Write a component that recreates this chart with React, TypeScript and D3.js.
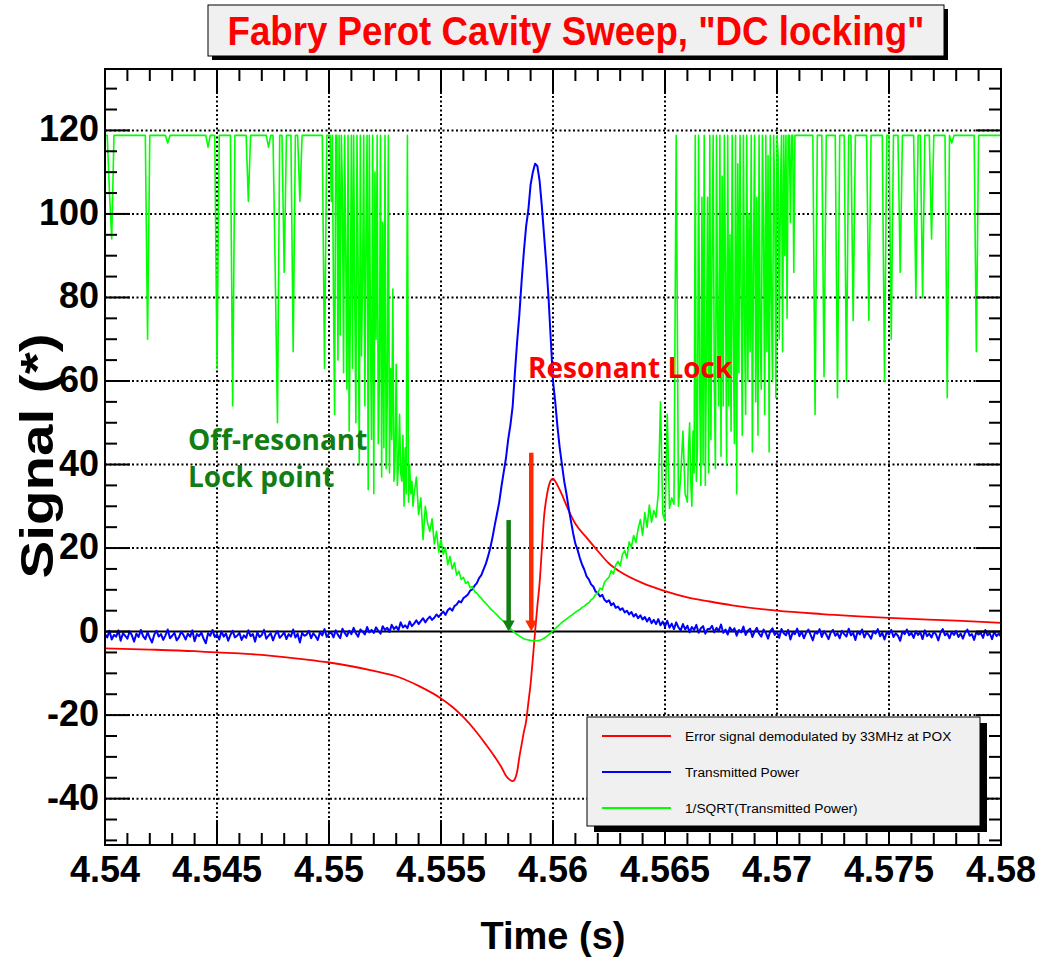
import React from 'react';
import * as d3 from 'd3';

// ---------------- DATA ----------------
const T0 = 4.54;
const DT = 0.0001; // sampling step of the blue trace
const SAT = 118.8; // saturation level of the 1/SQRT trace

const xTickValues = [4.54, 4.545, 4.55, 4.555, 4.56, 4.565, 4.57, 4.575, 4.58];
const xTickLabels = ['4.54', '4.545', '4.55', '4.555', '4.56', '4.565', '4.57', '4.575', '4.58'];
const yTickValues = [-40, -20, 0, 20, 40, 60, 80, 100, 120];
const yTickLabels = ['-40', '-20', '0', '20', '40', '60', '80', '100', '120'];

const seriesNames = [
  'Error signal demodulated by 33MHz at POX',
  'Transmitted Power',
  '1/SQRT(Transmitted Power)',
];
const seriesColors = ['#ff0000', '#0000ff', '#00ff00'];

const redTimes = [
  4.5400, 4.5420, 4.5440, 4.5450, 4.5460, 4.5470, 4.5480, 4.5490, 4.5500, 4.5510,
  4.5520, 4.5530, 4.5540, 4.5550, 4.5555, 4.5560, 4.5565, 4.5570, 4.5574, 4.5577,
  4.5579, 4.5581, 4.5582, 4.5583, 4.5584, 4.5585, 4.5586, 4.5587, 4.5588, 4.5589,
  4.5590, 4.5591, 4.5592, 4.5593, 4.5594, 4.5595, 4.5596, 4.5597, 4.5598, 4.5599,
  4.5600, 4.5601, 4.5602, 4.5604, 4.5606, 4.5610, 4.5615, 4.5620, 4.5625, 4.5630,
  4.5640, 4.5650, 4.5660, 4.5670, 4.5680, 4.5700, 4.5720, 4.5750, 4.5780, 4.5800,
];
const redValues = [
  -4.0, -4.3, -4.7, -5.0, -5.2, -5.6, -6.1, -6.7, -7.4, -8.3,
  -9.4, -10.7, -13.0, -16.0, -18.0, -20.5, -23.5, -27.0, -30.0, -32.5,
  -34.5, -35.6, -35.8, -35.3, -33.5, -30.0, -27.0, -24.0, -21.5, -17.0,
  -12.5, -6.5, 0.0, 6.0, 11.5, 19.5, 27.5, 31.8, 34.6, 36.2,
  36.6, 36.0, 35.0, 32.8, 30.2, 25.8, 22.5, 19.3, 16.3, 14.3,
  11.6, 9.7, 8.2, 7.2, 6.3, 5.0, 4.2, 3.3, 2.6, 2.1,
];

const blueValues = [
  -0.6, -1.4, 0.2, -1.9, -0.8, -1.2, 0.3, -2.2, -0.4, -1.0, // 0
  -1.7, 0.1, -0.9, -2.4, -0.5, -1.3, 0.4, -1.1, -1.8, -0.2, // 10
  -1.5, -2.6, -0.7, 0.2, -1.2, -0.6, -2.0, -0.9, 0.5, -1.6, // 20
  -1.0, -0.3, -2.1, -1.4, 0.0, -0.8, -1.9, -0.5, -1.2, 0.3, // 30
  -2.3, -0.6, -1.1, -0.2, -1.7, -2.8, -0.4, -1.0, 0.4, -1.3, // 40
  -0.7, -1.9, 0.1, -1.2, -0.5, -2.2, -0.8, 0.2, -1.4, -1.0, // 50
  -0.3, -2.0, -0.9, -1.5, 0.3, -1.1, -0.6, -2.4, -0.2, -1.3, // 60
  -0.8, 0.4, -1.7, -1.0, -0.4, -2.1, -0.7, 0.1, -1.5, -0.9, // 70
  -0.2, -1.8, -0.6, -1.2, 0.5, -1.4, -0.5, -2.6, -0.3, -1.0, // 80
  -0.7, 0.2, -1.6, -0.4, -1.1, -2.0, -0.1, -0.9, 0.6, -1.3, // 90
  -0.5, -0.2, -1.4, 0.3, -0.8, -1.6, 0.7, -0.3, -1.1, 0.2, // 100
  -0.6, 0.9, -0.4, -1.2, 0.5, 0.0, -0.7, 1.1, -0.2, 0.4, // 110
  -0.3, 1.0, 0.2, -0.5, 1.3, 0.4, 0.9, -0.1, 1.6, 0.6, // 120
  1.2, 0.3, 2.2, 1.0, 1.5, 0.8, 2.4, 1.3, 1.9, 2.7, // 130
  1.8, 2.5, 3.2, 2.2, 3.0, 3.6, 2.8, 3.3, 4.1, 3.5, // 140
  4.2, 4.8, 4.0, 5.1, 5.6, 5.0, 6.1, 6.5, 7.3, 7.0, // 150
  8.0, 8.4, 8.9, 9.8, 10.1, 11.0, 11.6, 12.8, 13.5, 14.9, // 160
  16.2, 18.0, 20.0, 22.6, 25.5, 28.2, 31.0, 34.8, 38.2, 41.5, // 170
  46.0, 49.5, 54.0, 62.0, 69.5, 76.0, 84.0, 91.0, 97.0, 101.0, // 180
  107.0, 110.0, 112.0, 111.5, 108.0, 102.0, 95.0, 88.0, 80.0, 70.0, // 190
  60.0, 55.0, 49.0, 44.0, 40.0, 36.0, 33.0, 29.5, 26.5, 23.5, // 200
  21.0, 19.5, 17.6, 16.0, 14.8, 13.2, 12.5, 11.3, 10.8, 9.6, // 210
  9.2, 8.4, 8.8, 7.6, 7.1, 7.5, 6.3, 6.8, 5.7, 6.0, // 220
  5.2, 5.6, 4.6, 5.0, 4.1, 4.7, 3.6, 4.2, 3.2, 3.9, // 230
  2.9, 3.5, 2.4, 3.3, 2.0, 2.8, 1.8, 3.0, 1.5, 2.4, // 240
  1.2, 2.6, 0.9, 1.9, 0.6, 2.2, 1.0, 0.3, 1.8, 0.5, // 250
  1.4, -0.2, 1.1, 0.4, 1.6, -0.3, 0.8, 1.3, -0.5, 0.6, // 260
  0.6, 1.4, -0.2, 0.9, 0.1, 1.7, -0.3, 0.5, -0.7, 1.0, // 270
  0.1, 0.8, -1.0, 0.4, -0.2, 1.2, -0.8, 0.2, 0.7, -1.3, // 280
  0.0, 0.9, -0.5, -1.2, 0.5, -0.3, -1.7, 0.1, 0.8, -0.8, // 290
  -0.1, -1.5, 0.6, -0.4, -0.9, 0.4, -1.9, -0.2, -0.6, 0.7, // 300
  -1.1, 0.0, -1.6, -0.3, 0.5, -0.8, -2.1, -0.1, -0.5, 0.6, // 310
  -1.3, 0.1, -0.7, -1.8, -0.2, 0.4, -1.0, -0.4, -1.6, 0.2, // 320
  -0.6, -1.2, 0.7, -0.9, -0.3, -2.0, 0.0, -0.7, 0.5, -1.4, // 330
  -0.2, -0.8, -1.7, 0.1, -0.5, 0.6, -1.1, -0.3, -1.9, -0.1, // 340
  -0.7, 0.4, -1.3, -0.4, -1.0, -2.2, 0.0, -0.6, 0.5, -0.9, // 350
  -0.3, -1.5, 0.1, -0.8, -0.2, -1.8, 0.3, -1.1, -0.5, -1.4, // 360
  0.0, -0.7, -2.1, -0.3, 0.6, -0.9, -0.4, -1.6, -0.1, -0.8, // 370
  0.1, -1.3, -0.5, -1.7, -0.2, 0.5, -1.0, -0.6, -2.0, -0.1, // 380
  -0.7, -0.3, -1.5, 0.4, -0.9, -0.4, -1.8, 0.0, -1.1, -0.5, // 390
  -1.2, // 400
];

// green trace, stored in segments (start time, sampling step, values)
const greenA = [ // 4.5400 .. 4.5499, step 0.0001
  SAT, SAT, 105, 94, SAT, SAT, SAT, SAT, SAT, SAT,
  SAT, SAT, SAT, SAT, SAT, SAT, SAT, SAT, SAT, 70,
  SAT, SAT, SAT, SAT, SAT, SAT, SAT, SAT, 117, SAT,
  SAT, SAT, SAT, SAT, SAT, SAT, SAT, SAT, SAT, SAT,
  SAT, SAT, SAT, SAT, SAT, SAT, 116, SAT, SAT, SAT,
  63, SAT, SAT, SAT, SAT, SAT, SAT, 54, SAT, SAT,
  SAT, SAT, SAT, SAT, 103, SAT, SAT, SAT, SAT, SAT,
  SAT, SAT, SAT, 116, SAT, SAT, 86, 50, SAT, SAT,
  86, SAT, SAT, SAT, 67, SAT, SAT, 103, SAT, SAT,
  SAT, SAT, SAT, SAT, SAT, SAT, SAT, SAT, 63, SAT,
];
const greenB = [ // 4.55000 .. 4.55375, step 0.00005 (dense region)
  SAT, SAT, 103, SAT, 80, 52, SAT, SAT, 65, SAT,
  71, SAT, 105, 62, SAT, 90, 58, SAT, 48, 75,
  SAT, 63, SAT, 79, 50, SAT, 88, 40, SAT, 66,
  85, SAT, 54, 95, SAT, 34, SAT, 72, 46, SAT,
  33, 110, 70, SAT, 45, 60, SAT, 37, 98, 44,
  SAT, 39, 55, SAT, 38, 63, 46, 82, 36, 41,
  64, 35, 40, 52, 38, 36, 47, 30, 44, 33,
  SAT, 31, 40, 33, 36, 30,
];
const greenC = [ // 4.5538 .. 4.5659, step 0.0001
  33, 37,
  28, 32, 22, 30, 26, 24, 27, 21, 24, 19,
  22, 18.5, 20, 16, 18, 15, 16.5, 13.5, 14.5, 12.5,
  13, 11.5, 12, 10.5, 10.8, 9.6, 9.2, 8.5, 8.0, 7.3,
  6.8, 6.2, 5.5, 5.0, 4.5, 4.0, 3.4, 2.9, 2.4, 1.8,
  1.3, 0.7, 0.2, -0.3, -0.7, -1.1, -1.4, -1.7, -1.9, -2.0,
  -2.1, -2.2, -2.2, -2.2, -2.1, -1.9, -1.6, -1.2, -0.8, -0.3,
  0.2, 0.7, 1.2, 1.7, 2.2, 2.6, 3.0, 3.4, 3.8, 4.2,
  4.6, 5.0, 5.3, 5.8, 6.1, 6.6, 6.9, 7.6, 8.0, 8.9,
  9.3, 10.4, 10.0, 11.8, 12.5, 13.0, 14.6, 13.8, 15.9, 16.8,
  15.7, 18.5, 19.4, 17.6, 21.5, 20.2, 23.0, 21.3, 24.6, 26.8,
  23.1, 28.5, 25.0, 30.3, 26.2, 29.0, 27.4, 33.0, 55, 28.2,
  26.5, 52, 29.5, 32, 30.5, SAT, 30, 37, 48, 33,
];
const greenD = [ // 4.56600 .. 4.57095, step 0.00005 (dense region)
  31, 44, 50, 36, 30, 48, 38, SAT, 36, 44,
  SAT, 58, 35, 104, 40, SAT, 35, 66, 104, 38,
  SAT, 46, 90, SAT, 60, 39, SAT, 72, 54, SAT,
  42, 109, 54, SAT, 86, 40, SAT, 54, 95, 48,
  SAT, 70, 45, SAT, 33, 112, 62, SAT, 80, 47,
  SAT, 75, 52, SAT, 60, 100, 67, SAT, 43, 88,
  SAT, 55, 104, 47, SAT, 70, 58, SAT, 96, 52,
  SAT, 67, 114, 43, SAT, 80, 60, SAT, 103, 56,
  SAT, 114, 70, 104, SAT, 67, SAT, 90, SAT, 75,
  SAT, SAT, 98, SAT, SAT, 86, SAT, SAT, SAT, SAT,
];
const greenE = [ // 4.5710 .. 4.5800, step 0.0001
  SAT, SAT, SAT, SAT, SAT, SAT, SAT, 52, SAT, SAT,
  SAT, 61, SAT, SAT, SAT, SAT, SAT, 56, SAT, SAT,
  SAT, 60, SAT, SAT, 74.5, SAT, SAT, SAT, SAT, SAT,
  SAT, 74.5, SAT, SAT, SAT, SAT, SAT, SAT, 60, SAT,
  SAT, 70, SAT, SAT, SAT, 86, SAT, SAT, SAT, SAT,
  SAT, SAT, 80, SAT, SAT, 80, SAT, SAT, SAT, 94,
  SAT, SAT, SAT, SAT, SAT, SAT, 56, SAT, 117, SAT,
  SAT, SAT, SAT, SAT, SAT, SAT, SAT, SAT, SAT, 67,
  SAT, SAT, SAT, SAT, SAT, SAT, SAT, SAT, SAT, SAT,
  SAT,
];
const greenSegments = [
  { start: 4.54, step: 0.0001, values: greenA },
  { start: 4.55, step: 0.00005, values: greenB },
  { start: 4.5538, step: 0.0001, values: greenC },
  { start: 4.566, step: 0.00005, values: greenD },
  { start: 4.571, step: 0.0001, values: greenE },
];

// annotation arrows (time, top value) pointing down to 0
const greenArrow = { t: 4.55802, top: 26.7 };
const redArrow = { t: 4.55903, top: 42.8 };

// ---------------- COMPONENT ----------------
const AXIS_FONT = '"Liberation Sans", Arial, Helvetica, sans-serif';
const NOTE_FONT = '"Open Sans", "Noto Sans", sans-serif';

export default function App() {
  const W = 1040, H = 958;
  const L = 105, R = 1001, TOP = 69, B = 845;
  const x = d3.scaleLinear().domain([4.54, 4.58]).range([L, R]);
  const y = d3.scaleLinear().domain([-51.1, 134.7]).range([B, TOP]);

  const sampled = d3.line<number>().x((_, i) => x(T0 + i * DT)).y((d) => y(d));
  const redLine = d3
    .line<number>()
    .x((_, i) => x(redTimes[i]))
    .y((d) => y(d))
    .curve(d3.curveMonotoneX);
  const greenPts: [number, number][] = [];
  greenSegments.forEach((s) => s.values.forEach((v, k) => greenPts.push([s.start + k * s.step, v])));
  const greenLine = d3
    .line<[number, number]>()
    .x((d) => x(d[0]))
    .y((d) => y(d[1]));

  const xMinor = d3.range(0, 41).map((k) => ({ v: 4.54 + k * 0.001, major: k % 5 === 0 }));
  const yMinor = d3.range(-50, 135, 5).map((v) => ({ v, major: v % 20 === 0 }));
  const MAJ = 25, MIN = 12;

  const arrow = (a: { t: number; top: number }, color: string) => {
    const ax = x(a.t);
    const y0 = y(a.top);
    const y1 = y(0);
    const headH = 11, headW = 6;
    return (
      <g>
        <line x1={ax} x2={ax} y1={y0} y2={y1 - headH + 1} stroke={color} strokeWidth={4.5} />
        <polygon
          points={`${ax - headW},${y1 - headH} ${ax + headW},${y1 - headH} ${ax},${y1}`}
          fill={color}
        />
      </g>
    );
  };

  return (
    <svg
      width={W}
      height={H}
      viewBox={`0 0 ${W} ${H}`}
      style={{ position: 'absolute', left: 0, top: 0, background: '#fff' }}
    >
      <defs>
        <clipPath id="plotClip">
          <rect x={L} y={TOP} width={R - L} height={B - TOP} />
        </clipPath>
      </defs>
      <rect x={0} y={0} width={W} height={H} fill="#fff" />

      {/* grid */}
      <g stroke="#000" strokeWidth={2} strokeDasharray="2 2.5">
        {xTickValues.slice(1, -1).map((v) => (
          <line key={'gx' + v} x1={x(v)} x2={x(v)} y1={TOP} y2={B} />
        ))}
        {yTickValues
          .filter((v) => v !== 0)
          .map((v) => (
            <line key={'gy' + v} x1={L} x2={R} y1={y(v)} y2={y(v)} />
          ))}
      </g>

      {/* zero line */}
      <line x1={L} x2={R} y1={y(0)} y2={y(0)} stroke="#000" strokeWidth={2} />

      {/* series */}
      <g clipPath="url(#plotClip)" fill="none" strokeLinejoin="round">
        <path d={redLine(redValues) || ''} stroke={seriesColors[0]} strokeWidth={1.8} />
        <path d={sampled(blueValues) || ''} stroke={seriesColors[1]} strokeWidth={2} />
        <path d={greenLine(greenPts) || ''} stroke={seriesColors[2]} strokeWidth={1.6} />
      </g>

      {/* arrows */}
      {arrow(greenArrow, '#127d12')}
      {arrow(redArrow, '#ff2a00')}

      {/* annotations */}
      <text x={528} y={378} fill="#ff0000" fontFamily={NOTE_FONT} fontWeight={700} fontSize={28}>
        Resonant Lock
      </text>
      <text x={188} y={450} fill="#127d12" fontFamily={NOTE_FONT} fontWeight={700} fontSize={28}>
        Off-resonant
      </text>
      <text x={188} y={487} fill="#127d12" fontFamily={NOTE_FONT} fontWeight={700} fontSize={28}>
        Lock point
      </text>

      {/* frame */}
      <rect x={L} y={TOP} width={R - L} height={B - TOP} fill="none" stroke="#000" strokeWidth={2} />

      {/* ticks */}
      <g stroke="#000" strokeWidth={2}>
        {xMinor.map((t, k) => {
          const len = t.major ? MAJ : MIN;
          const px = x(t.v);
          return (
            <g key={'xt' + k}>
              <line x1={px} x2={px} y1={B} y2={B - len} />
              <line x1={px} x2={px} y1={TOP} y2={TOP + len} />
            </g>
          );
        })}
        {yMinor.map((t, k) => {
          const len = t.major ? MAJ : MIN;
          const py = y(t.v);
          return (
            <g key={'yt' + k}>
              <line x1={L} x2={L + len} y1={py} y2={py} />
              <line x1={R} x2={R - len} y1={py} y2={py} />
            </g>
          );
        })}
      </g>

      {/* tick labels */}
      <g fontFamily={AXIS_FONT} fontWeight={700} fontSize={36} fill="#000">
        {xTickValues.map((v, i) => (
          <text key={'xl' + i} x={x(v)} y={882} textAnchor="middle">
            {xTickLabels[i]}
          </text>
        ))}
        {yTickValues.map((v, i) => (
          <text key={'yl' + i} x={99} y={y(v) + 11} textAnchor="end">
            {yTickLabels[i]}
          </text>
        ))}
      </g>

      {/* axis titles */}
      <text
        x={(L + R) / 2}
        y={949}
        textAnchor="middle"
        fontFamily={AXIS_FONT}
        fontWeight={700}
        fontSize={38}
      >
        Time (s)
      </text>
      <text
        transform={`translate(53, 456) rotate(-90)`}
        textAnchor="middle"
        fontFamily={AXIS_FONT}
        fontWeight={700}
        fontSize={46}
        textLength={245}
        lengthAdjust="spacingAndGlyphs"
      >
        Signal (*)
      </text>

      {/* title box */}
      <rect x={212} y={9} width={736} height={51} fill="#000" />
      <rect x={208} y={5} width={736} height={51} fill="#f0f0f0" stroke="#000" strokeWidth={1} />
      <text
        x={576}
        y={45}
        textAnchor="middle"
        fill="#ff0000"
        fontFamily={AXIS_FONT}
        fontWeight={700}
        fontSize={40}
        textLength={697}
        lengthAdjust="spacingAndGlyphs"
      >
        Fabry Perot Cavity Sweep, "DC locking"
      </text>

      {/* legend */}
      <rect x={594} y={723} width={393} height={109} fill="#000" />
      <rect x={587} y={717} width={393} height={109} fill="#f0f0f0" stroke="#000" strokeWidth={1} />
      {seriesNames.map((name, i) => {
        const ly = 736 + i * 36;
        return (
          <g key={'lg' + i}>
            <line x1={602} x2={671} y1={ly} y2={ly} stroke={seriesColors[i]} strokeWidth={1.8} />
            <text x={685} y={ly + 5} fontFamily={AXIS_FONT} fontSize={13.7} fill="#000">
              {name}
            </text>
          </g>
        );
      })}
    </svg>
  );
}
